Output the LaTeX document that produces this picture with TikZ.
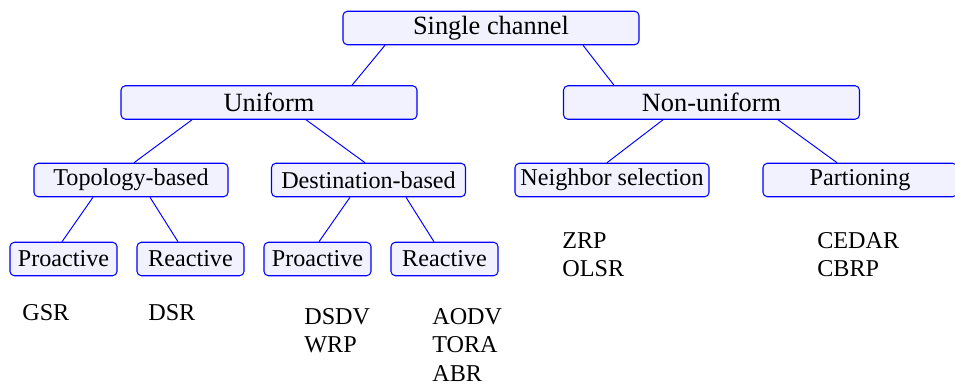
\documentclass[tikz,border=0pt]{standalone}
\usepackage{fontspec}
\setmainfont{Liberation Serif}
\usetikzlibrary{positioning, calc}

\begin{document}
\begin{tikzpicture}[
  box/.style={draw=blue, fill=blue!5, rounded corners=2.5pt, line width=0.6pt, inner sep=0pt, minimum height=0.67cm},
  bigbox/.style={box, minimum width=5.92cm, font=\fontsize{15}{18}\selectfont},
  midbox/.style={box, minimum width=3.88cm, font=\fontsize{13.75}{16}\selectfont},
  smallbox/.style={box, minimum width=2.14cm, font=\fontsize{13.75}{16}\selectfont},
  blueedge/.style={draw=blue, line width=0.55pt},
  leaf/.style={anchor=north west, inner sep=0pt, align=left, font=\fontsize{13.75}{16.3}\selectfont}
]
\useasboundingbox (0,0) rectangle (19.1,-7.68);

\node[bigbox] (sc) at (9.82,-0.56) {Single channel};
\node[bigbox] (uni) at (5.38,-2.05) {Uniform};
\node[bigbox] (non) at (14.23,-2.05) {Non-uniform};

\node[midbox] (top) at (2.62,-3.6) {Topology-based};
\node[midbox] (dst) at (7.37,-3.6) {Destination-based};
\node[midbox] (nbr) at (12.24,-3.6) {Neighbor selection};
\node[midbox] (prt) at (17.2,-3.6) {Partioning};

\node[smallbox] (p1) at (1.27,-5.18) {Proactive};
\node[smallbox] (r1) at (3.81,-5.18) {Reactive};
\node[smallbox] (p2) at (6.35,-5.18) {Proactive};
\node[smallbox] (r2) at (8.89,-5.18) {Reactive};

% edges
\draw[blueedge] ([xshift=-2.12cm]sc.south) -- ([xshift=1.66cm]uni.north);
\draw[blueedge] ([xshift=1.84cm]sc.south) -- ([xshift=-1.95cm]non.north);
\draw[blueedge] ([xshift=-1.54cm]uni.south) -- ([xshift=0.06cm]top.north);
\draw[blueedge] ([xshift=0.74cm]uni.south) -- ([xshift=-0.07cm]dst.north);
\draw[blueedge] ([xshift=-0.97cm]non.south) -- ([xshift=-0.1cm]nbr.north);
\draw[blueedge] ([xshift=1.33cm]non.south) -- ([xshift=-0.46cm]prt.north);
\draw[blueedge] ([xshift=-0.76cm]top.south) -- ([xshift=-0.03cm]p1.north);
\draw[blueedge] ([xshift=0.38cm]top.south) -- ([xshift=-0.25cm]r1.north);
\draw[blueedge] ([xshift=-0.37cm]dst.south) -- ([xshift=0.03cm]p2.north);
\draw[blueedge] ([xshift=0.75cm]dst.south) -- ([xshift=-0.21cm]r2.north);

% protocols
\node[leaf] (gsr) at (0.44,-6.08) {GSR};
\node[leaf] (dsr) at (2.96,-6.08) {DSR};
\node[leaf] (dsdv) at (6.08,-6.16) {DSDV\\WRP};
\node[leaf] (aodv) at (8.64,-6.16) {AODV\\TORA\\ABR};
\node[leaf] (zrp) at (11.24,-4.64) {ZRP\\OLSR};
\node[leaf] (cedar) at (16.34,-4.64) {CEDAR\\CBRP};

\end{tikzpicture}
\end{document}
